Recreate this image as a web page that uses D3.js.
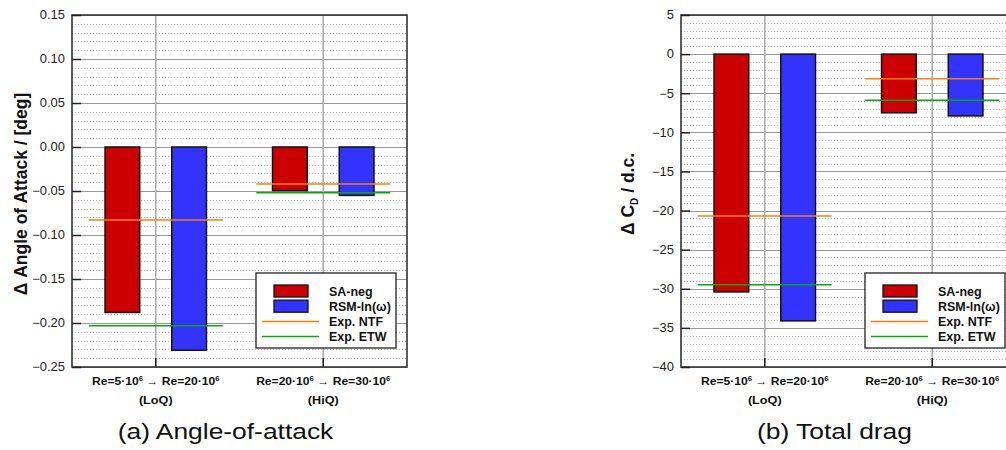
<!DOCTYPE html>
<html><head><meta charset="utf-8">
<script src="https://cdn.jsdelivr.net/npm/d3@7"></script>
<style>
body{margin:0;background:#fff;overflow:hidden}
svg{display:block;font-family:"Liberation Sans",Arial,sans-serif}
</style></head>
<body>
<svg id="c" width="1006" height="450"></svg>
<script>
// ---- data ----
const categories = ["LoQ", "HiQ"];
const reFrom = ["5", "20"];
const reTo = ["20", "30"];
const seriesNames = ["SA-neg", "RSM-ln(\u03C9)", "Exp. NTF", "Exp. ETW"];
const aoaSA  = [-0.188, -0.0495];
const aoaRSM = [-0.231, -0.055];
const aoaNTF = [-0.083, -0.042];
const aoaETW = [-0.203, -0.052];
const cdSA  = [-30.4, -7.5];
const cdRSM = [-34.1, -7.9];
const cdNTF = [-20.7, -3.15];
const cdETW = [-29.5, -5.9];
const aoaTicks = [0.15, 0.10, 0.05, 0.00, -0.05, -0.10, -0.15, -0.20, -0.25];
const cdTicks = [5, 0, -5, -10, -15, -20, -25, -30, -35, -40];

const colors = {SA: "#cc0000", RSM: "#3333ff", NTF: "#ff8000", ETW: "#00b000"};
const svg = d3.select("#c");

// text placed at (x,y) and stretched horizontally by s
function stext(parent, x, y, s, anchor) {
  return parent.append("text").attr("transform", `translate(${x},${y}) scale(${s},1)`)
    .attr("text-anchor", anchor || "start");
}

function panel(opt) {
  const {x0, x1, y0, y1, domain, ticks, minorStep, fmt, sa, rsm, ntf, etw, caption, ylabel} = opt;
  const g = svg.append("g");
  const y = d3.scaleLinear().domain(domain).range([y1, y0]);
  const x = d3.scaleBand().domain(categories).range([x0, x1]).padding(0);
  const sub = d3.scaleBand().domain(["SA", "RSM"]).range([0, x.bandwidth()])
    .paddingInner(0.48).paddingOuter(0.495);

  // minor gridlines
  const minors = d3.range(domain[0], domain[1] + minorStep / 2, minorStep)
    .filter(v => !ticks.some(t => Math.abs(t - v) < minorStep / 10));
  g.append("g").selectAll("line").data(minors).join("line")
    .attr("x1", x0).attr("x2", x1).attr("y1", d => Math.round(y(d)) + 0.5).attr("y2", d => Math.round(y(d)) + 0.5)
    .attr("stroke", "#b8b8b8").attr("stroke-width", 1).attr("stroke-dasharray", "1,2");
  // major gridlines
  g.append("g").selectAll("line").data(ticks).join("line")
    .attr("x1", x0).attr("x2", x1).attr("y1", d => Math.round(y(d)) + 0.5).attr("y2", d => Math.round(y(d)) + 0.5)
    .attr("stroke", "#999").attr("stroke-width", 1);
  // vertical gridlines at category centers
  g.append("g").selectAll("line").data(categories).join("line")
    .attr("x1", d => x(d) + x.bandwidth() / 2).attr("x2", d => x(d) + x.bandwidth() / 2)
    .attr("y1", y0).attr("y2", y1).attr("stroke", "#aaa").attr("stroke-width", 1.5);

  // bars
  const bars = [];
  categories.forEach((c, i) => {
    bars.push({c, s: "SA", v: sa[i]});
    bars.push({c, s: "RSM", v: rsm[i]});
  });
  g.append("g").selectAll("rect").data(bars).join("rect")
    .attr("x", d => x(d.c) + sub(d.s))
    .attr("width", sub.bandwidth())
    .attr("y", d => y(Math.max(0, d.v)))
    .attr("height", d => Math.abs(y(d.v) - y(0)))
    .attr("fill", d => colors[d.s]).attr("stroke", "#111").attr("stroke-width", 1.5);

  // experimental lines
  const lines = [];
  categories.forEach((c, i) => {
    lines.push({c, s: "NTF", v: ntf[i]});
    lines.push({c, s: "ETW", v: etw[i]});
  });
  g.append("g").selectAll("line").data(lines).join("line")
    .attr("x1", d => x(d.c) + x.bandwidth() * 0.1)
    .attr("x2", d => x(d.c) + x.bandwidth() * 0.9)
    .attr("y1", d => y(d.v)).attr("y2", d => y(d.v))
    .attr("stroke", d => colors[d.s]).attr("stroke-width", 1.5);

  // frame
  g.append("rect").attr("x", x0).attr("y", y0).attr("width", x1 - x0).attr("height", y1 - y0)
    .attr("fill", "none").attr("stroke", "#333").attr("stroke-width", 1.6);

  // left axis (inward ticks)
  const ya = d3.axisLeft(y).tickValues(ticks).tickFormat(fmt).tickSizeInner(-9).tickSizeOuter(0).tickPadding(7);
  const ag = g.append("g").attr("transform", `translate(${x0},0)`).call(ya);
  ag.select(".domain").remove();
  ag.selectAll(".tick line").attr("stroke", "#222").attr("stroke-width", 1.5);
  ag.selectAll(".tick text").attr("font-size", 12).attr("fill", "#222")
    .attr("font-family", "Liberation Sans, Arial, sans-serif")
    .attr("transform", "translate(-7,0) scale(1.08,1)").attr("x", 0);

  // bottom axis (inward ticks)
  const xa = d3.axisBottom(x).tickSizeInner(-9).tickSizeOuter(0).tickFormat("");
  const bg = g.append("g").attr("transform", `translate(0,${y1})`).call(xa);
  bg.select(".domain").remove();
  bg.selectAll(".tick line").attr("stroke", "#222").attr("stroke-width", 1.5);

  // category labels
  categories.forEach((c, i) => {
    const cx = x(c) + x.bandwidth() / 2;
    const t = stext(g, cx, y1 + 18, 1.1, "middle")
      .attr("font-size", 11).attr("font-weight", "bold").attr("fill", "#111");
    t.append("tspan").text(`Re=${reFrom[i]}\u00B710`);
    t.append("tspan").attr("font-size", 7).attr("dy", -4).text("6");
    t.append("tspan").attr("dy", 4).text(" ");
    t.append("tspan").attr("font-weight", "normal").text("\u2192");
    t.append("tspan").text(` Re=${reTo[i]}\u00B710`);
    t.append("tspan").attr("font-size", 7).attr("dy", -4).text("6");
    stext(g, cx, y1 + 37, 1.15, "middle")
      .attr("font-size", 11).attr("font-weight", "bold").attr("fill", "#111").text(`(${c})`);
  });

  // caption
  stext(g, (x0 + x1) / 2 - 14, 439, 1.2, "middle")
    .attr("font-size", 22).attr("fill", "#111").text(caption);

  // y label
  const yl = g.append("text").attr("transform", `translate(${ylabel.x},${(y0 + y1) / 2 + 3}) rotate(-90)`)
    .attr("text-anchor", "middle").attr("font-size", 17.5).attr("font-weight", "bold").attr("fill", "#111");
  ylabel.build(yl);

  // legend
  const lx = x0 + 184, ly = 273;
  const lg = g.append("g").attr("transform", `translate(${lx},${ly})`);
  lg.append("rect").attr("x", 0).attr("y", 0).attr("width", 140).attr("height", 75)
    .attr("fill", "#fff").attr("stroke", "#222").attr("stroke-width", 1.3);
  const legItems = [
    {k: "SA", type: "box", name: seriesNames[0]},
    {k: "RSM", type: "box", name: seriesNames[1]},
    {k: "NTF", type: "line", name: seriesNames[2]},
    {k: "ETW", type: "line", name: seriesNames[3]}
  ];
  legItems.forEach((d, i) => {
    const cy = 18 + i * 15.2;
    if (d.type === "box") {
      lg.append("rect").attr("x", 18).attr("y", cy - 6).attr("width", 34).attr("height", 12)
        .attr("fill", colors[d.k]).attr("stroke", "#111").attr("stroke-width", 1.3);
    } else {
      lg.append("line").attr("x1", 6).attr("x2", 63).attr("y1", cy).attr("y2", cy)
        .attr("stroke", colors[d.k]).attr("stroke-width", 1.5);
    }
    stext(lg, 73, cy + 4.5, 1.04).attr("font-size", 12).attr("font-weight", "bold")
      .attr("fill", "#111").text(d.name);
  });
}

panel({
  x0: 72, x1: 407, y0: 15, y1: 367, domain: [-0.25, 0.15], ticks: aoaTicks, minorStep: 0.01,
  fmt: d3.format(".2f"), sa: aoaSA, rsm: aoaRSM, ntf: aoaNTF, etw: aoaETW,
  caption: "(a) Angle-of-attack",
  ylabel: {x: 27, build: t => t.text("\u0394 Angle of Attack / [deg]")}
});
panel({
  x0: 681, x1: 1016, y0: 15, y1: 367, domain: [-40, 5], ticks: cdTicks, minorStep: 1,
  fmt: d3.format("d"), sa: cdSA, rsm: cdRSM, ntf: cdNTF, etw: cdETW,
  caption: "(b) Total drag",
  ylabel: {x: 634, build: t => {
    t.append("tspan").text("\u0394 C");
    t.append("tspan").attr("font-size", 10).attr("dy", 4).text("D");
    t.append("tspan").attr("dy", -4).text(" / d.c.");
  }}
});
</script>
</body></html>
